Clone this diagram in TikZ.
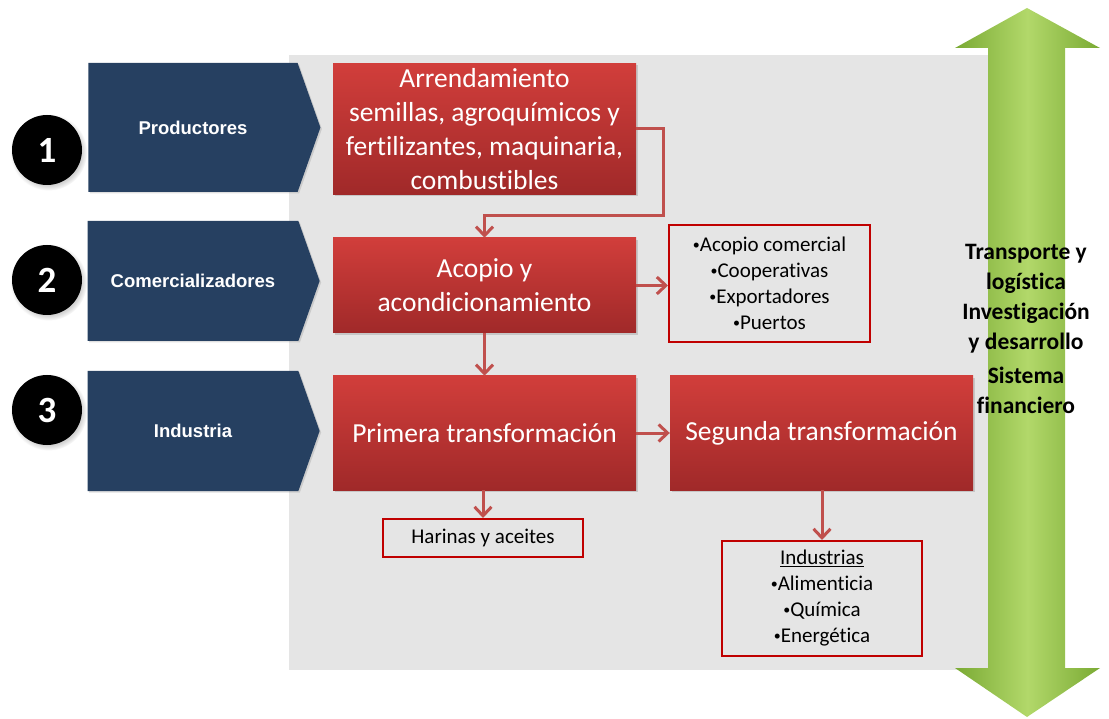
\documentclass[tikz,border=0pt]{standalone}
\usepackage{fontspec}
\setmainfont{Carlito}[Ligatures={NoCommon}]
\newfontfamily\arialfont{Liberation Sans}
\usetikzlibrary{arrows.meta,shapes.symbols,shadows}

\definecolor{chevblue}{RGB}{38,64,97}
\definecolor{bggray}{RGB}{229,229,229}
\definecolor{boxtop}{RGB}{209,62,59}
\definecolor{boxbot}{RGB}{160,41,41}
\definecolor{linkred}{RGB}{192,80,77}
\definecolor{framered}{RGB}{192,0,0}
\definecolor{greenedge}{RGB}{122,170,52}
\definecolor{greenmid}{RGB}{178,216,106}

\newcommand{\bul}{\raisebox{2.5pt}{\fontsize{14}{14}\selectfont•}}

\begin{document}
\begin{tikzpicture}[x=1pt,y=-1pt,
  stage/.style={signal, signal to=east, signal pointer angle=141, fill=chevblue,
    minimum width=232pt, inner sep=0pt, text=white,
    drop shadow={shadow xshift=1.5pt,shadow yshift=-1.5pt,opacity=.25},
    font=\arialfont\bfseries\fontsize{18.5}{22}\selectfont},
  num/.style={circle, fill=black, minimum size=70pt, inner sep=0pt, text=white,
    circular drop shadow={shadow xshift=1.5pt,shadow yshift=-2pt,opacity=.35},
    font=\bfseries\fontsize{37}{37}\selectfont},
  redbox/.style={rectangle, top color=boxtop, bottom color=boxbot, minimum width=303pt,
    inner sep=0pt, text=white, align=center,
    drop shadow={shadow xshift=2pt,shadow yshift=-2pt,opacity=.3},
    font=\fontsize{27.5}{34}\selectfont},
  listbox/.style={rectangle, draw=framered, line width=2pt, minimum width=200pt,
    inner sep=0pt, align=center, font=\fontsize{21}{26}\selectfont},
  link/.style={draw=linkred, line width=3pt, -{Straight Barb[length=9pt,width=17pt]}}]
\useasboundingbox (0,0) rectangle (1109,719);

% background panel
\fill[bggray] (289,55) rectangle (990,670);

% stages
\node[stage, minimum height=129pt] (prod) at (193,127.5) {Productores};
\node[stage, minimum height=120pt] (comer) at (193,281) {Comercializadores};
\node[stage, minimum height=120pt] (indus) at (193,431) {Industria};
\node[num] (n1) at (47,150) {1};
\node[num] (n2) at (47,280) {2};
\node[num] (n3) at (47,410) {3};

% red boxes
\node[redbox, minimum height=131pt] (arrend) at (484.5,129)
  {Arrendamiento\\semillas, agroquímicos y\\fertilizantes, maquinaria,\\combustibles};
\node[redbox, minimum height=95pt] (acopio) at (484.5,285.5) {Acopio y\\acondicionamiento};
\node[redbox, minimum height=114pt] (prim) at (484.5,433) {Primera transformación};
\node[redbox, minimum height=114pt] (seg) at (821.5,433) {Segunda transformación};

% framed lists
\node[listbox, minimum width=201pt, minimum height=117pt] (agentes) at (769.5,283.5)
  {\bul Acopio comercial\\\bul Cooperativas\\\bul Exportadores\\\bul Puertos};
\node[listbox, minimum height=38pt] (harinas) at (483,538) {Harinas y aceites};
\node[listbox, minimum height=115pt] (ramas) at (822,598.5)
  {\underline{Industrias}\\\bul Alimenticia\\\bul Química\\\bul Energética};

% connectors
\coordinate (bend) at (663,216);
\draw[link] (arrend.east) -| (bend) -| (acopio.north);
\draw[link] (acopio.east) -- (acopio.east -| agentes.west);
\draw[link] (acopio.south) -- (prim.north);
\draw[link] (prim.east) -- (seg.west);
\draw[link] (prim.south -| harinas.north) -- (harinas.north);
\draw[link] (seg.south -| ramas.north) -- (ramas.north);

% support double arrow
\shade[left color=greenedge, right color=greenedge, middle color=greenmid]
  (1027,8) -- (1100,48) -- (1065,48) -- (1065,668) -- (1100,668) -- (1027,717)
  -- (955,668) -- (988,668) -- (988,48) -- (955,48) -- cycle;
\node[align=center, font=\bfseries\fontsize{23.5}{30}\selectfont] (apoyo) at (1026,329)
  {Transporte y\\logística\\Investigación\\y desarrollo\\[4pt]Sistema\\financiero};
\end{tikzpicture}
\end{document}
